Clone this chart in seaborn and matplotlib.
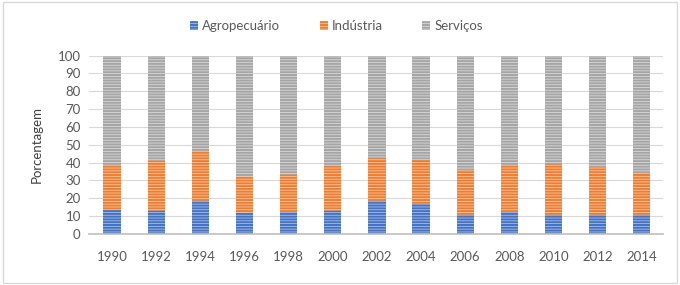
import matplotlib
matplotlib.use("Agg")
import matplotlib.pyplot as plt
import seaborn as sns
import pandas as pd
import numpy as np
from matplotlib.patches import Rectangle, Patch

years = ["1990", "1992", "1994", "1996", "1998", "2000", "2002",
         "2004", "2006", "2008", "2010", "2012", "2014"]
agro = [13.6, 12.7, 18.3, 11.8, 12.3, 13.1, 18.3, 17.0, 10.4, 12.5, 10.4, 10.8, 10.4]
industria = [25.2, 28.0, 28.0, 19.9, 20.9, 24.8, 24.2, 24.6, 25.6, 26.3, 28.8, 26.5, 23.7]
servicos = [round(100 - a - i, 1) for a, i in zip(agro, industria)]

series = ["Agropecuário", "Indústria", "Serviços"]
colors = ["#4472C4", "#ED7D31", "#A5A5A5"]
stripe = ["#A9BEE6", "#F8C6A3", "#D8D8D8"]

sns.set_theme(style="white")
plt.rcParams['font.family'] = ['Lato', 'DejaVu Sans']
plt.rcParams['hatch.linewidth'] = 0.6

fig = plt.figure(figsize=(6.8, 2.85), dpi=100)
ax = fig.add_axes([0.131, 0.179, 0.844, 0.626])

df = pd.DataFrame({"ano": years, "agro": agro, "ind": industria, "serv": servicos})
df["c1"] = df["agro"]
df["c2"] = df["agro"] + df["ind"]
df["c3"] = df["c2"] + df["serv"]

layers = [("c3", colors[2], stripe[2]), ("c2", colors[1], stripe[1]), ("c1", colors[0], stripe[0])]
for col, c, sc in layers:
    n0 = len(ax.patches)
    sns.barplot(data=df, x="ano", y=col, color=c, width=0.39, ax=ax, saturation=1)
    for p in ax.patches[n0:]:
        p.set_facecolor(c)
        p.set_edgecolor(sc)
        p.set_linewidth(0)
        p.set_hatch("------")

ax.set_ylim(0, 100)
ax.set_xlim(-0.52, 12.48)
ax.set_yticks(range(0, 101, 10))
ax.yaxis.grid(True, color="#D9D9D9", linewidth=0.8)
ax.set_axisbelow(True)
for s in ["top", "right", "left"]:
    ax.spines[s].set_visible(False)
ax.spines["bottom"].set_color("#BFBFBF")
ax.spines["bottom"].set_linewidth(1.2)
ax.tick_params(axis="both", length=0, labelsize=9.5, colors="#595959", pad=6)
ax.tick_params(axis="x", pad=12)
ax.set_xlabel("")
ax.set_ylabel("Porcentagem", fontsize=9.5, color="#404040", labelpad=11)

handles = [Patch(facecolor=c, edgecolor=sc, hatch="------", linewidth=0) for c, sc in zip(colors, stripe)]
fig.legend(handles, series, loc="center", bbox_to_anchor=(0.495, 0.908), ncol=3, frameon=False,
           fontsize=9.5, labelcolor="#595959", handlelength=0.6, handleheight=0.6,
           columnspacing=3.0, handletextpad=0.3)

fig.patches.append(Rectangle((0.004, 0.006), 0.992, 0.988, transform=fig.transFigure,
                             fill=False, edgecolor="#D9D9D9", linewidth=1))

fig.savefig("out.png", dpi=100)
